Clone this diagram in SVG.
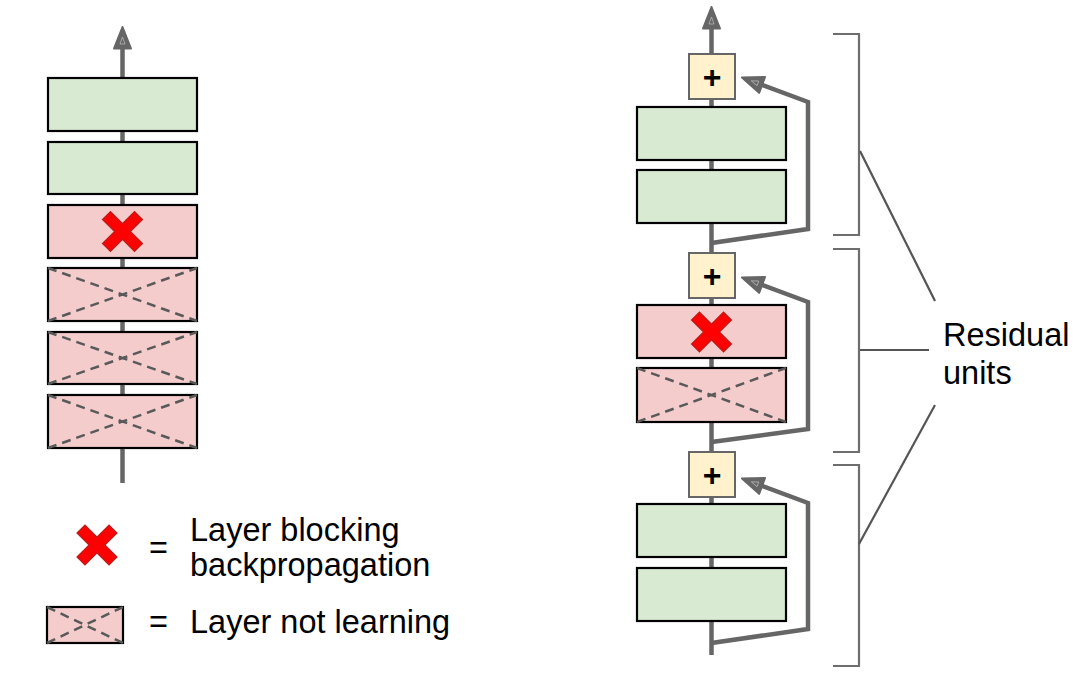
<svg xmlns="http://www.w3.org/2000/svg" xmlns:xlink="http://www.w3.org/1999/xlink" width="1086" height="685" viewBox="0 0 1086 685">
<style>
.conn{fill:none;stroke:#666666;stroke-width:4.5;stroke-linejoin:miter}
.green{fill:#d9ead3;stroke:#000;stroke-width:2.2}
.pink{fill:#f4cccc;stroke:#000;stroke-width:2.2}
.plus{fill:#fff2cc;stroke:#666666;stroke-width:2}
.dash{stroke:#595959;stroke-width:2.5;stroke-dasharray:9 6;fill:none}
.brk{fill:none;stroke:#6e6e6e;stroke-width:2.2}
.ptr{fill:none;stroke:#555555;stroke-width:2.2}
.lbl{font-family:"Liberation Sans",Arial,sans-serif;font-size:32.5px;fill:#000}
.pl{font-family:"Liberation Sans",Arial,sans-serif;font-size:32px;font-weight:bold;fill:#000;text-anchor:middle}
</style>
<defs>
<marker id="arr" markerUnits="userSpaceOnUse" viewBox="0 0 24 20" markerWidth="24" markerHeight="20" refX="19" refY="10" orient="auto">
<path d="M1.5,1.5 L23,10 L1.5,18.5 Z" fill="#666666" stroke="#666666" stroke-width="2" stroke-linejoin="round"/>
<path d="M6,7.5 L13,10 L6,12.5 Z" fill="none" stroke="#b5b5b5" stroke-width="0.8"/>
</marker>
<g id="redx">
<polygon transform="rotate(45)" points="-5.5,-22.5 5.5,-22.5 5.5,-5.5 22.5,-5.5 22.5,5.5 5.5,5.5 5.5,22.5 -5.5,22.5 -5.5,5.5 -22.5,5.5 -22.5,-5.5 -5.5,-5.5" fill="#ff0000" stroke="#c41a1a" stroke-width="1.5" stroke-linejoin="miter"/>
</g>
</defs>
<rect width="1086" height="685" fill="#ffffff"/>

<g id="connectors">
<path class="conn" d="M122.5,483 L122.5,31" marker-end="url(#arr)"/>
<path class="conn" d="M711.5,655 L711.5,11" marker-end="url(#arr)"/>
<path class="conn" d="M711.5,243 L808,229 L808,102 L745.7,78.8" marker-end="url(#arr)"/>
<path class="conn" d="M711.5,442 L808,429 L808,302 L745.7,278.8" marker-end="url(#arr)"/>
<path class="conn" d="M711.5,643 L808,629 L808,503 L745.7,479.8" marker-end="url(#arr)"/>
</g>

<g id="left-layer1"><rect class="green" x="48" y="78" width="149" height="53"/></g>
<g id="left-layer2"><rect class="green" x="48" y="142" width="149" height="52"/></g>
<g id="left-layer3"><rect class="pink" x="48" y="205" width="149" height="53"/><use xlink:href="#redx" transform="translate(122.5,231.5)"/></g>
<g id="left-layer4"><rect class="pink" x="48" y="268" width="149" height="53"/><path class="dash" d="M48,268 L197,321 M48,321 L197,268"/></g>
<g id="left-layer5"><rect class="pink" x="48" y="332" width="149" height="52"/><path class="dash" d="M48,332 L197,384 M48,384 L197,332"/></g>
<g id="left-layer6"><rect class="pink" x="48" y="395" width="149" height="53"/><path class="dash" d="M48,395 L197,448 M48,448 L197,395"/></g>

<g id="right-plus1"><rect class="plus" x="689" y="54" width="46" height="45"/><text class="pl" x="712" y="88">+</text></g>
<g id="right-layer1"><rect class="green" x="637" y="107" width="149" height="53"/></g>
<g id="right-layer2"><rect class="green" x="637" y="170" width="149" height="53"/></g>
<g id="right-plus2"><rect class="plus" x="689" y="253" width="46" height="45"/><text class="pl" x="712" y="287">+</text></g>
<g id="right-layer3"><rect class="pink" x="637" y="305" width="149" height="53"/><use xlink:href="#redx" transform="translate(711.5,332)"/></g>
<g id="right-layer4"><rect class="pink" x="637" y="368" width="149" height="54"/><path class="dash" d="M637,368 L786,422 M637,422 L786,368"/></g>
<g id="right-plus3"><rect class="plus" x="689" y="452" width="46" height="45"/><text class="pl" x="712" y="486">+</text></g>
<g id="right-layer5"><rect class="green" x="637" y="504" width="149" height="53"/></g>
<g id="right-layer6"><rect class="green" x="637" y="568" width="149" height="53"/></g>

<g id="brackets">
<path class="brk" d="M833,34 L859,34 L859,235 L833,235"/>
<path class="brk" d="M833,249 L859,249 L859,452 L833,452"/>
<path class="brk" d="M833,465 L859,465 L859,666 L833,666"/>
<path class="ptr" d="M860,151 L935,301"/>
<path class="ptr" d="M860,350 L929,350"/>
<path class="ptr" d="M859,544 L935,405"/>
</g>
<g id="residual-label">
<text class="lbl" x="943" y="346">Residual</text>
<text class="lbl" x="943" y="384">units</text>
</g>

<g id="legend">
<use xlink:href="#redx" transform="translate(97,545)"/>
<text class="lbl" x="149" y="559">=</text>
<text class="lbl" x="190" y="541">Layer blocking</text>
<text class="lbl" x="190" y="576">backpropagation</text>
<rect class="pink" x="47" y="607" width="76" height="36"/>
<path class="dash" d="M47,607 L123,643 M47,643 L123,607"/>
<text class="lbl" x="149" y="633">=</text>
<text class="lbl" x="190" y="633">Layer not learning</text>
</g>
</svg>
